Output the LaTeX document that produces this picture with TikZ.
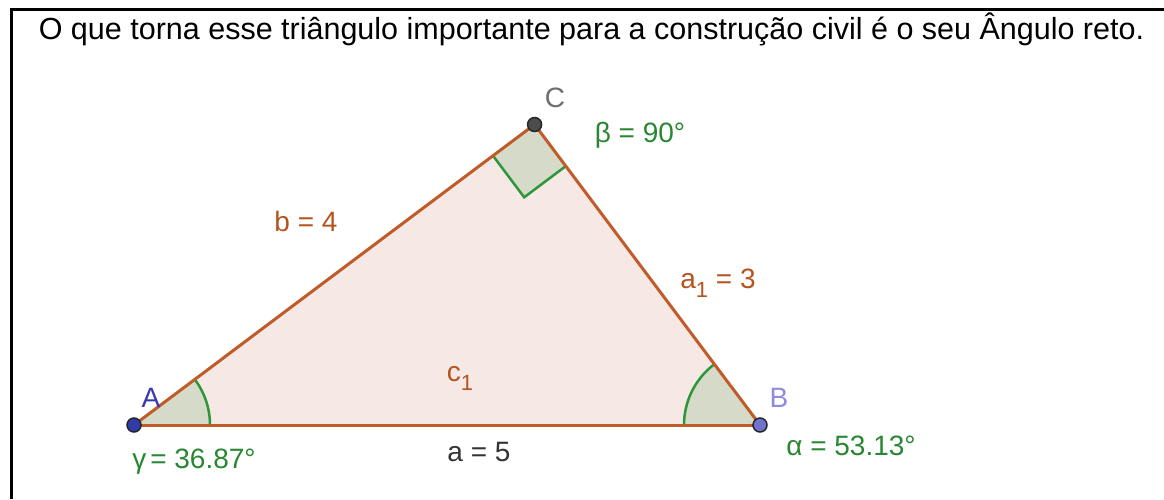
\documentclass[tikz,border=0pt]{standalone}
\usepackage{fontspec}
\setmainfont{Liberation Sans}
\usetikzlibrary{calc}
\definecolor{edgec}{RGB}{192,92,42}
\definecolor{labc}{RGB}{180,84,30}
\definecolor{fillc}{RGB}{246,233,229}
\definecolor{angfill}{RGB}{214,218,200}
\definecolor{angline}{RGB}{46,150,58}
\definecolor{anglab}{RGB}{40,135,50}
\definecolor{ptA}{RGB}{48,60,170}
\definecolor{ptB}{RGB}{110,115,205}
\definecolor{labA}{RGB}{56,56,180}
\definecolor{labB}{RGB}{140,140,224}
\definecolor{labC}{RGB}{110,110,110}
\tikzset{
  lbl/.style={inner sep=0pt, font=\fontsize{28}{28}\selectfont},
  edgelbl/.style={lbl, text=labc},
  anglbl/.style={lbl, text=anglab},
  pt/.style={circle, draw=black!85, line width=1.5pt, minimum size=14pt, inner sep=0pt},
  edge/.style={draw=edgec, line width=3pt},
  angarc/.style={draw=angline, line width=2.5pt},
}
\newcommand{\sub}[1]{\raisebox{-9pt}{\fontsize{22}{22}\selectfont #1}}
\begin{document}
\begin{tikzpicture}[x=1pt,y=1pt]
\useasboundingbox (0,0) rectangle (1164,-499);
\fill[white] (0,0) rectangle (1164,-499);
% frame
\draw[line width=3pt, black] (11,-499) -- (11,-9) -- (1164,-9);
\node[lbl, font=\fontsize{30.5}{30.5}\selectfont] (title) at (591.5,-29) {O que torna esse triângulo importante para a construção civil é o seu Ângulo reto.};
% vertices
\coordinate (A) at (134,-425);
\coordinate (B) at (760,-425);
\coordinate (C) at (534.6,-124.5);
% triangle fill
\fill[fillc] (A) -- (B) -- (C) -- cycle;
% angles
\fill[angfill] (A) -- ++(0:76) arc[start angle=0, end angle=36.87, radius=76] -- cycle;
\draw[angarc] ($(A)+(0:76)$) arc[start angle=0, end angle=36.87, radius=76];
\fill[angfill] (B) -- ++(126.87:76) arc[start angle=126.87, end angle=180, radius=76] -- cycle;
\draw[angarc] ($(B)+(126.87:76)$) arc[start angle=126.87, end angle=180, radius=76];
\coordinate (Ca) at ($(C)!52pt!(A)$);
\coordinate (Cb) at ($(C)!52pt!(B)$);
\coordinate (Cc) at ($(Ca)+(Cb)-(C)$);
\fill[angfill] (C) -- (Ca) -- (Cc) -- (Cb) -- cycle;
\draw[angarc, line join=miter] (Ca) -- (Cc) -- (Cb);
% edges
\draw[edge] (A) -- (B);
\draw[edge] (B) -- (C);
\draw[edge] (C) -- (A);
% points
\node[pt, fill=ptA] (pA) at (A) {};
\node[pt, fill=ptB] (pB) at (B) {};
\node[pt, fill=black!70] (pC) at (C) {};
% point labels
\node[lbl, text=labA] (lA) at (151,-398) {A};
\node[lbl, text=labB] (lB) at (779,-398) {B};
\node[lbl, text=labC] (lC) at (555,-98) {C};
% edge labels
\node[edgelbl] (lb) at (306,-221) {b = 4};
\node[edgelbl] (la1) at (718,-283) {a\sub{1} = 3};
\node[edgelbl] (lc1) at (460,-378) {c\sub{1}};
\node[lbl, text=black!80] (la) at (479,-452) {a = 5};
% angle labels
\node[anglbl] (lbeta) at (640,-135) {β = 90°};
\node[anglbl] (lgamma) at (194,-462) {γ\kern4pt= 36.87°};
\node[anglbl] (lalpha) at (851,-446) {α = 53.13°};
\end{tikzpicture}
\end{document}
